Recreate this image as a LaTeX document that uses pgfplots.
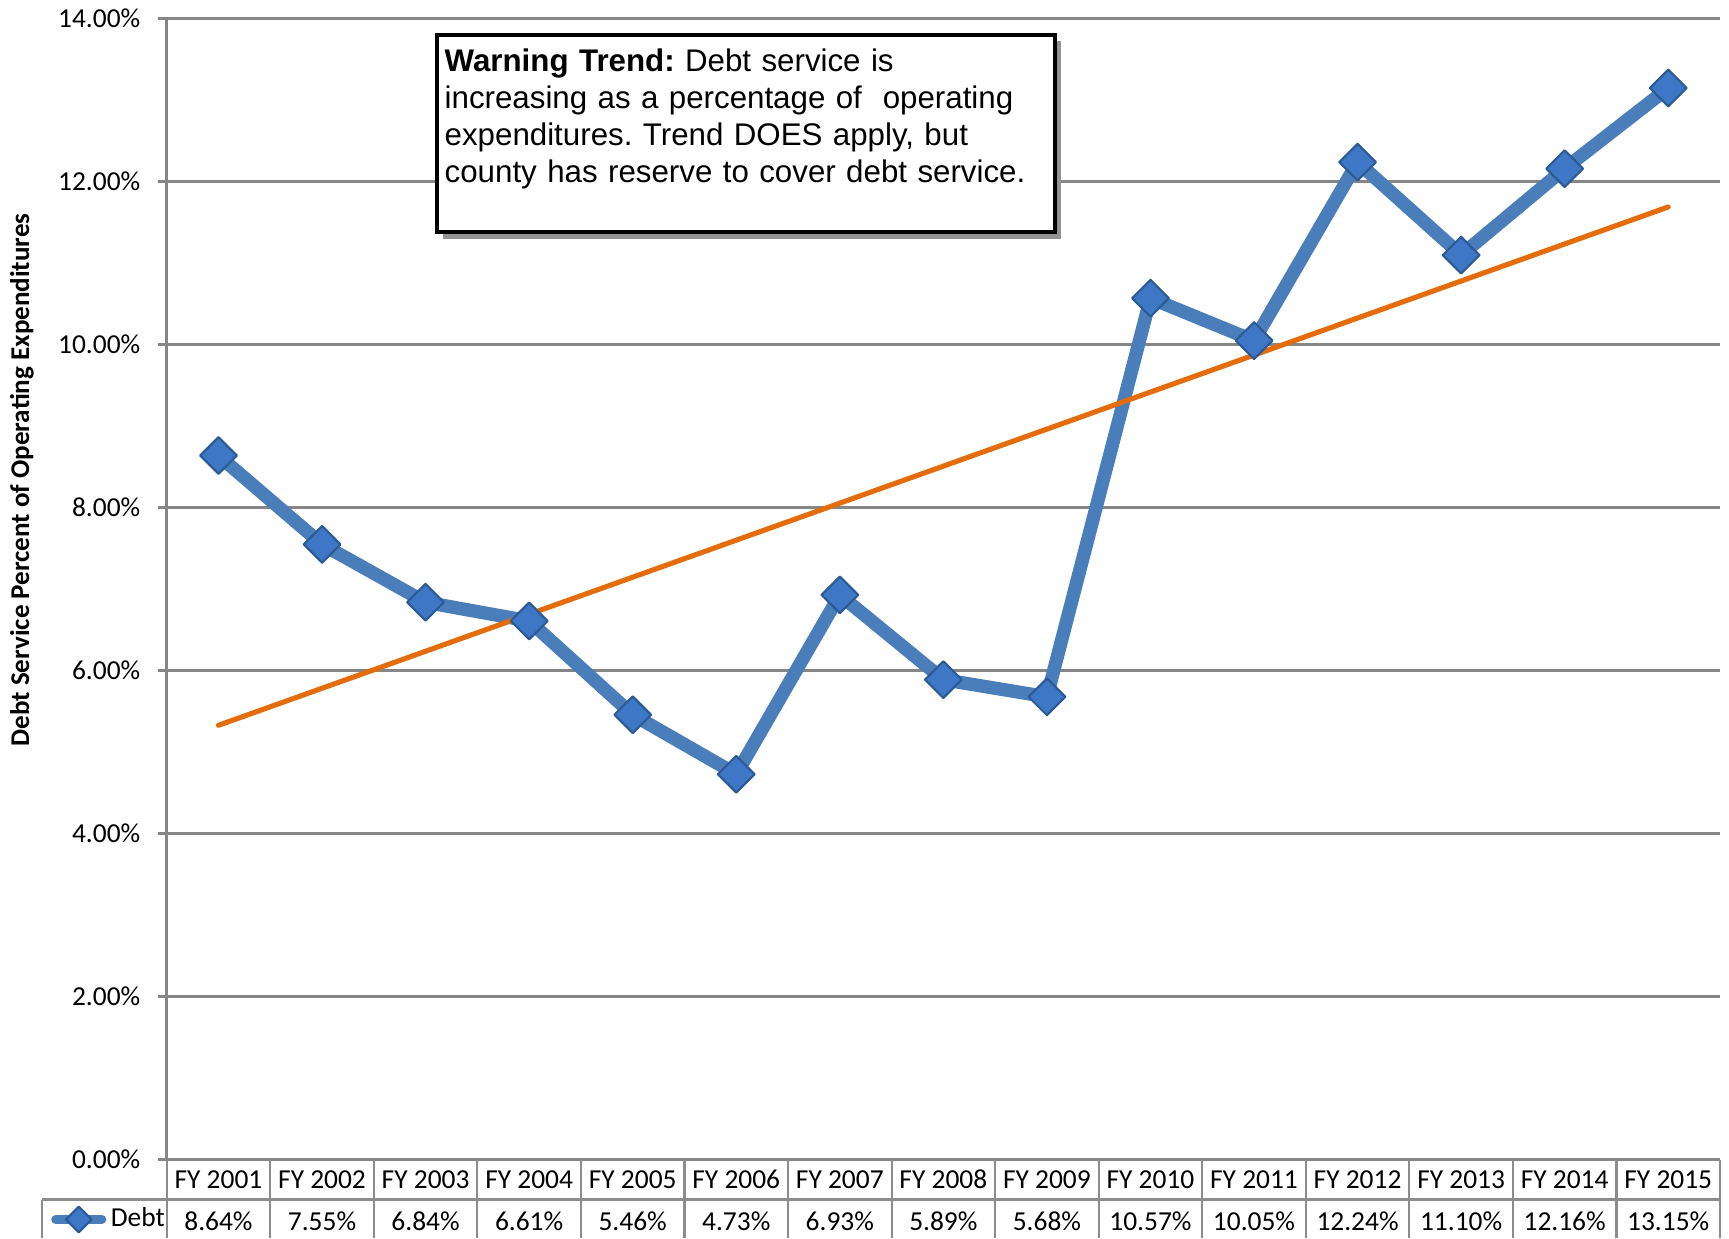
\documentclass[border=0pt]{standalone}
\usepackage{pgfplots}
\pgfplotsset{compat=1.18}
\usepackage{pgfplotstable}
\usepackage{fontspec}
\setmainfont{Carlito}
\newfontfamily\arialfont{Liberation Sans}
\definecolor{gridgray}{HTML}{868686}
\definecolor{tablegray}{HTML}{8C8C8C}
\definecolor{debtblue}{HTML}{4A7EBB}
\definecolor{markfill}{HTML}{3D77C5}
\definecolor{markedge}{HTML}{2B5A94}
\definecolor{trendorange}{HTML}{E46C0A}
\pgfplotstableread{
x y
1 8.64
2 7.55
3 6.84
4 6.61
5 5.46
6 4.73
7 6.93
8 5.89
9 5.68
10 10.57
11 10.05
12 12.24
13 11.10
14 12.16
15 13.15
}\debtdata
\pgfplotstableread{
x y
1 5.33
15 11.69
}\trenddata
\newcommand{\tfont}{\fontsize{7.8}{9}\selectfont}
\frenchspacing
\begin{document}
\begin{tikzpicture}[x=1mm,y=1mm]
\useasboundingbox (0,0) rectangle (172.9,123.8);
\begin{axis}[
  at={(16.67mm,7.83mm)}, anchor=south west,
  scale only axis, width=155.33mm, height=114.1mm,
  xmin=0.5, xmax=15.5, ymin=0, ymax=14,
  clip=false,
  axis x line*=bottom, axis y line*=left,
  axis line style={draw=gridgray, line width=0.7pt, -},
  ymajorgrids,
  major grid style={draw=gridgray, line width=0.7pt},
  ytick={0,2,...,14},
  yticklabel={\pgfmathprintnumber[fixed,fixed zerofill,precision=2]{\tick}\%},
  /pgf/number format/assume math mode=true,
  yticklabel style={font=\tfont, anchor=east, inner sep=0pt, xshift=-1.72mm},
  tick align=outside,
  major tick length=0.85mm,
  ytick style={draw=gridgray, line width=0.7pt},
  xtick={1,...,15},
  xtick style={draw=none},
  xticklabels={FY 2001,FY 2002,FY 2003,FY 2004,FY 2005,FY 2006,FY 2007,FY 2008,FY 2009,FY 2010,FY 2011,FY 2012,FY 2013,FY 2014,FY 2015},
  xticklabel style={font=\tfont, anchor=base, inner sep=0pt, yshift=-2.05mm},
  legend style={at={(-0.0748,-0.0524)}, anchor=west, draw=none, fill=none,
    inner sep=0pt, font=\tfont, nodes={inner sep=0pt},
    /tikz/every odd column/.append style={column sep=0.45mm}},
  legend image code/.code={\draw[mark repeat=2,mark phase=2,#1, line width=2.6pt, mark size=2.6pt, line cap=round]
     plot coordinates {(0.45mm,0mm) (2.75mm,0mm) (5.05mm,0mm)};},
]
\addplot[debtblue, line width=3.8pt, line join=round, mark=square*, mark size=3.7pt,
  mark options={rotate=45, fill=markfill, draw=markedge, line width=0.6pt, solid}]
  table[x=x,y=y]{\debtdata};
\addlegendentry{Debt}
\addplot[trendorange, line width=1.45pt, line cap=round, forget plot]
  table[x=x,y=y]{\trenddata};
\end{axis}
% data table grid
\begin{scope}[draw=tablegray, line width=0.6pt]
\foreach \k in {0,...,15} {
  \draw ({16.67+10.3553*\k},7.83) -- ({16.67+10.3553*\k},0);
}
\draw (4.2,3.85) -- (172.0,3.85);
\draw (4.2,3.85) -- (4.2,0);
\end{scope}
% value row
\foreach \i/\v in {1/8.64\%,2/7.55\%,3/6.84\%,4/6.61\%,5/5.46\%,6/4.73\%,7/6.93\%,8/5.89\%,9/5.68\%,10/10.57\%,11/10.05\%,12/12.24\%,13/11.10\%,14/12.16\%,15/13.15\%} {
  \node[font=\tfont, anchor=base, inner sep=0pt] at ({16.67+10.3553*(\i-0.5)},0.75) {\v};
}
% y label
\node[rotate=90, font=\fontsize{7.7}{9}\selectfont\bfseries, inner sep=0pt] at (2.2,75.8)
  {Debt Service Percent of Operating Expenditures};
% warning box
\fill[gray!85] (44.3,99.9) rectangle (106.1,119.7);
\draw[black, line width=1.1pt, fill=white] (43.7,100.6) rectangle (105.5,120.3);
\node[anchor=north west, inner sep=0pt, text width=60mm, align=left,
  font=\arialfont\fontsize{8.9}{10.53}\selectfont] at (44.4,118.95)
  {\textbf{Warning Trend:} Debt service is\\
   increasing as a percentage of\ \ operating\\
   expenditures. Trend DOES apply, but\\
   county has reserve to cover debt service.};
\end{tikzpicture}
\end{document}
